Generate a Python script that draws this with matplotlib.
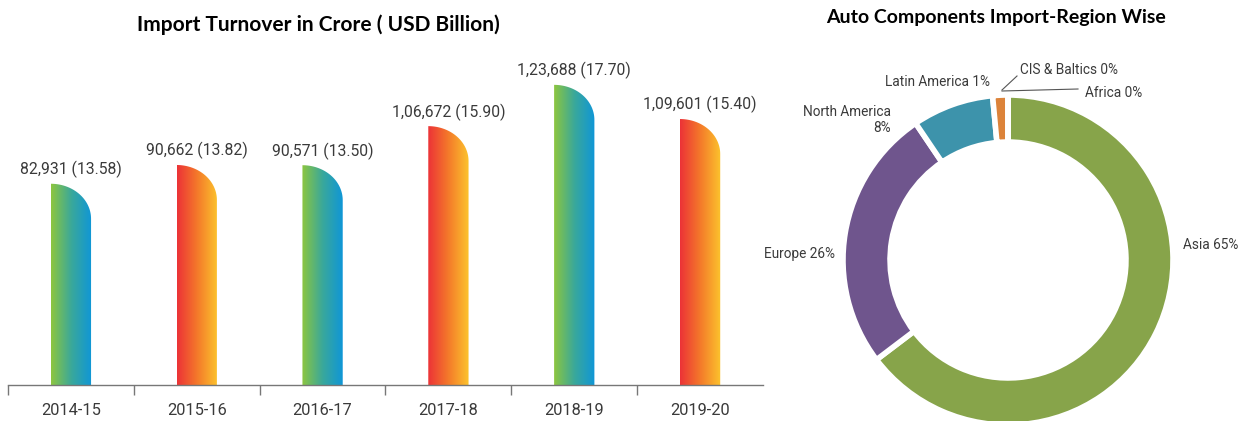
"""Import turnover bars plus region-wise donut."""
import matplotlib
matplotlib.use('Agg')
import matplotlib.pyplot as plt
from matplotlib.path import Path
from matplotlib.patches import PathPatch
from matplotlib.colors import LinearSegmentedColormap
import numpy as np

# data
years = ["2014-15", "2015-16", "2016-17", "2017-18", "2018-19", "2019-20"]
crore = [82931, 90662, 90571, 106672, 123688, 109601]
usd_bn = [13.58, 13.82, 13.50, 15.90, 17.70, 15.40]
crore_txt = ["82,931", "90,662", "90,571", "1,06,672", "1,23,688", "1,09,601"]

regions = ["Asia", "Europe", "North America", "Latin America", "CIS & Baltics", "Africa"]
shares = [65, 26, 8, 1.5, 0, 0]  # Latin America drawn a bit wider than its 1% label

W, H = 1247, 421
fig = plt.figure(figsize=(W / 100, H / 100), dpi=100)
fig.patch.set_facecolor('white')

txt_col = '#3a3a3a'
cool = LinearSegmentedColormap.from_list('cool', ['#8dc63f', '#3aa89a', '#0f96d8'])
warm = LinearSegmentedColormap.from_list('warm', ['#ec3237', '#f47a2a', '#fcc42d'])

# ---- bar chart ----
ax = fig.add_axes([8 / W, 36 / H, 755 / W, 364 / H])
ax.set_xlim(-0.5, 5.5)
ax.set_ylim(0, 150000)
bw = 0.32
cap = 14400  # height of the rounded corner in data units
grad = np.linspace(0, 1, 256).reshape(1, -1)
for i, v in enumerate(crore):
    x0, x1 = i - bw / 2, i + bw / 2
    t = np.linspace(0, np.pi / 2, 40)
    arc = [(x0 + (x1 - x0) * np.sin(a), v - cap + cap * np.cos(a)) for a in t]
    verts = [(x0, 0), (x0, v)] + arc[1:] + [(x1, 0), (x0, 0)]
    codes = [Path.MOVETO] + [Path.LINETO] * (len(verts) - 2) + [Path.CLOSEPOLY]
    patch = PathPatch(Path(verts, codes), facecolor='none', edgecolor='none')
    ax.add_patch(patch)
    im = ax.imshow(grad, cmap=cool if i % 2 == 0 else warm, aspect='auto',
                   extent=[x0, x1, 0, v], zorder=2)
    im.set_clip_path(patch)
    ax.annotate(f"{crore_txt[i]} ({usd_bn[i]:.2f})", xy=(i, v), xytext=(0, 4),
                textcoords='offset points', ha='center', va='bottom',
                fontsize=11.3, family='Roboto', color=txt_col)

for s in ['top', 'right', 'left']:
    ax.spines[s].set_visible(False)
ax.spines['bottom'].set_color('#777777')
ax.spines['bottom'].set_linewidth(1.0)
ax.set_yticks([])
ax.set_xticks(range(len(years)))
ax.set_xticklabels(years, family='Roboto', fontsize=11.8, color=txt_col)
ax.tick_params(axis='x', which='major', length=0, pad=13)
ax.set_xticks(np.arange(-0.5, 5.0, 1.0), minor=True)
ax.tick_params(axis='x', which='minor', length=7, color='#777777', width=1)

fig.text(318 / W, 1 - 25 / H, "Import Turnover in Crore ( USD Billion)", ha='center',
         va='center', fontsize=15, fontweight='bold', family='Lato', color='black')

# ---- donut ----
cx, cy, r = 1008, 260, 165
ax2 = fig.add_axes([(cx - r) / W, (H - cy - r) / H, 2 * r / W, 2 * r / H])
ax2.axis('off')
colors = ['#87a44a', '#6f558d', '#3d93ab', '#dc833a', '#dc833a', '#dc833a']
wedges, _ = ax2.pie(shares, colors=colors, startangle=90, counterclock=False, radius=1,
                    wedgeprops=dict(width=0.285, edgecolor='white', linewidth=4))
for w in wedges:
    w.set_clip_on(False)
ax2.set_xlim(-1, 1)
ax2.set_ylim(-1, 1)


def px(x, y):
    return ((x - cx) / r, (cy - y) / r)


lab = dict(fontsize=9.8, family='Roboto', color=txt_col)
ax2.text(*px(1183, 245), "Asia 65%", ha='left', va='center', **lab)
ax2.text(*px(835, 254), "Europe 26%", ha='right', va='center', **lab)
ax2.text(*px(891, 120), "North America\n8%", ha='right', va='center',
         linespacing=1.1, multialignment='right', **lab)
ax2.text(*px(990, 82), "Latin America 1%", ha='right', va='center', **lab)
ax2.text(*px(1020, 70), "CIS & Baltics 0%", ha='left', va='center', **lab)
ax2.text(*px(1085, 93), "Africa 0%", ha='left', va='center', **lab)
ax2.plot(*zip(px(1002, 90), px(1017, 76)), color='#555555', lw=0.8, clip_on=False)
ax2.plot(*zip(px(1002, 91), px(1078, 89)), color='#555555', lw=0.8, clip_on=False)

fig.text(996 / W, 1 - 18 / H, "Auto Components Import-Region Wise", ha='center',
         va='center', fontsize=14, fontweight='bold', family='Lato', color='black')

plt.savefig('out.png', dpi=100, facecolor='white')
